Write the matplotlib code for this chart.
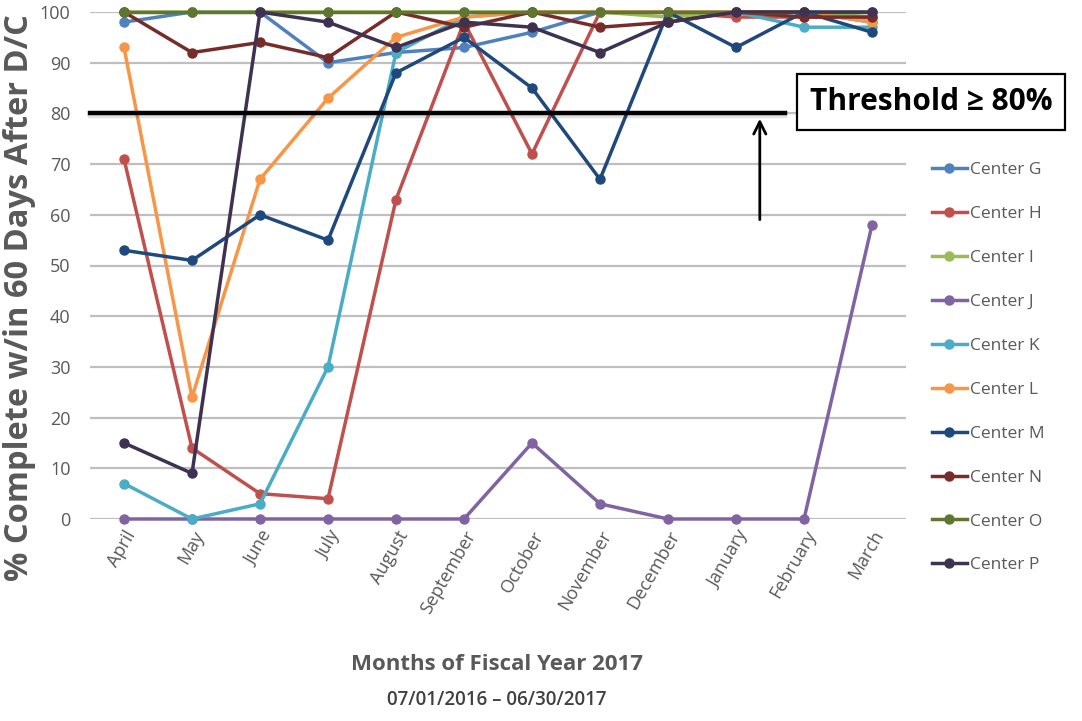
import matplotlib.pyplot as plt
import matplotlib.patheffects as pe

months = ['April', 'May', 'June', 'July', 'August', 'September', 'October',
          'November', 'December', 'January', 'February', 'March']

center_g = [98, 100, 100, 90, 92, 93, 96, 100, 100, 100, 100, 98]
center_h = [71, 14, 5, 4, 63, 98, 72, 100, 100, 99, 99, 99]
center_i = [100, 100, 100, 100, 100, 100, 100, 100, 99, 100, 100, 99]
center_j = [0, 0, 0, 0, 0, 0, 15, 3, 0, 0, 0, 58]
center_k = [7, 0, 3, 30, 92, 99, 100, 100, 100, 100, 97, 97]
center_l = [93, 24, 67, 83, 95, 99, 100, 100, 100, 100, 100, 98]
center_m = [53, 51, 60, 55, 88, 95, 85, 67, 100, 93, 100, 96]
center_n = [100, 92, 94, 91, 100, 97, 100, 97, 98, 100, 99, 99]
center_o = [100, 100, 100, 100, 100, 100, 100, 100, 100, 100, 100, 100]
center_p = [15, 9, 100, 98, 93, 98, 97, 92, 98, 100, 100, 100]

series = [('Center G', center_g, '#4F81BD'),
          ('Center H', center_h, '#C0504D'),
          ('Center I', center_i, '#9BBB59'),
          ('Center J', center_j, '#8064A2'),
          ('Center K', center_k, '#4BACC6'),
          ('Center L', center_l, '#F79646'),
          ('Center M', center_m, '#1F497D'),
          ('Center N', center_n, '#772C2A'),
          ('Center O', center_o, '#5F7530'),
          ('Center P', center_p, '#3F3151')]

threshold = 80
grey = '#595959'
font = 'Open Sans'

fig = plt.figure(figsize=(10.82, 7.21), dpi=100)
ax = fig.add_axes([90 / 1082, 1 - 519 / 721, 816 / 1082, 507 / 721])

x = list(range(len(months)))
for name, vals, col in series:
    ax.plot(x, vals, color=col, lw=2.5, marker='o', ms=6.5, label=name,
            clip_on=False, zorder=3)

ax.set_xlim(-0.5, len(months) - 0.5)
ax.set_ylim(0, 100)
ax.set_yticks(range(0, 101, 10))
ax.yaxis.grid(True, color='#BFBFBF', lw=1.6)
ax.set_axisbelow(True)
for s in ax.spines.values():
    s.set_visible(False)
ax.tick_params(axis='y', length=0, pad=14, labelsize=13, labelcolor=grey)
ax.tick_params(axis='x', length=0, pad=6, labelsize=13, labelcolor=grey)
ax.set_xticks(x)
ax.set_xticklabels(months, rotation=60, ha='right', rotation_mode='anchor',
                   family=font)
for lab in ax.get_yticklabels():
    lab.set_family(font)

# threshold line with a light shadow
ax.axhline(threshold, xmin=0, xmax=(785 - 90) / 816, color='black', lw=3.2,
           zorder=4, clip_on=False,
           path_effects=[pe.SimpleLineShadow(offset=(0, -2), alpha=0.12), pe.Normal()])
ax.annotate('', xy=(9.35, threshold - 0.5), xytext=(9.35, 58.5),
            arrowprops=dict(arrowstyle='->', color='black', lw=2,
                            mutation_scale=22), zorder=5)
fig.text(931 / 1082, 1 - 102 / 721, 'Threshold \u2265 80%', ha='center', va='center',
         fontsize=21.5, fontweight='bold', family=font,
         bbox=dict(boxstyle='square,pad=0.42', fc='white', ec='black', lw=1.6))

fig.text(20 / 1082, 1 - 298 / 721, '% Complete w/in 60 Days After D/C', rotation=90,
         ha='center', va='center', fontsize=23.5, fontweight='bold', color=grey,
         family=font)
fig.text(497 / 1082, 1 - 665 / 721, 'Months of Fiscal Year 2017', ha='center',
         va='center', fontsize=16, fontweight='bold', color=grey, family=font)
fig.text(497 / 1082, 1 - 700 / 721, '07/01/2016 \u2013 06/30/2017', ha='center',
         va='center', fontsize=13.5, fontweight='semibold', color='#404040',
         family=font)

fig.legend(loc='upper left', bbox_to_anchor=(925 / 1082, 1 - 155 / 721),
           frameon=False, labelcolor=grey, handlelength=2.0,
           handletextpad=0.2, labelspacing=1.6, borderaxespad=0,
           prop={'family': font, 'size': 12.5})

fig.savefig('out.png', dpi=100)
